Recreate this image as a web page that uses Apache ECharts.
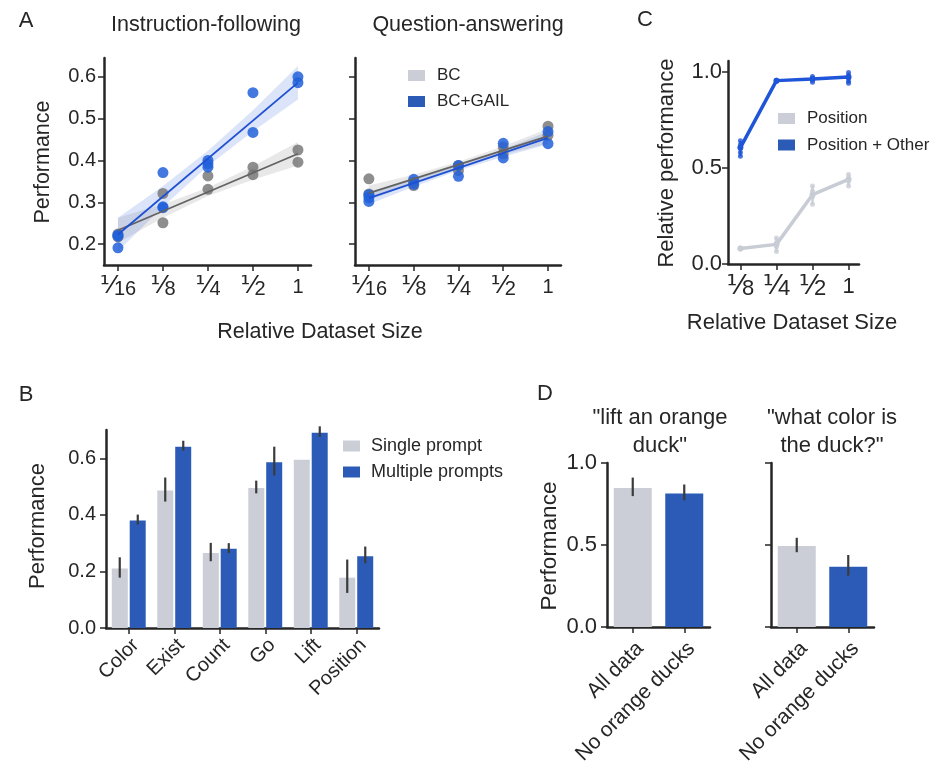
<!DOCTYPE html>
<html><head><meta charset="utf-8">
<script src="https://cdn.jsdelivr.net/npm/echarts@6/dist/echarts.min.js"></script>
<style>html,body{margin:0;padding:0;background:#fff}#c{width:932px;height:767px}</style>
</head><body><div id="c"></div><script>
const FONT = '"Liberation Sans", Arial, "DejaVu Sans", sans-serif';
const TXT = '#262626';
const AX = '#262626';
const GRAY_BAR = '#cbced6';
const BLUE_BAR = '#2b5bb6';
const GRAY_PT = '#727272';
const BLUE_PT = '#2160da';
const GRAY_LINE = '#626262';
const BLUE_LINE = '#1f50d2';

// ---------- Panel A ----------
const sizeIdxA = [0, 1, 2, 3, 4];
const sizeLabelsA = ['⅟16', '⅟8', '⅟4', '⅟2', '1'];
const perfTicksA = [0.2, 0.3, 0.4, 0.5, 0.6];
// seed values per dataset size
const ifBC   = [[0.224, 0.217], [0.321, 0.251], [0.363, 0.331], [0.384, 0.366], [0.425, 0.396]];
const ifGAIL = [[0.222, 0.219, 0.191], [0.371, 0.289, 0.287], [0.400, 0.384, 0.392], [0.562, 0.467], [0.600, 0.586]];
const qaBC   = [[0.356, 0.320], [0.348, 0.340], [0.388, 0.376], [0.432, 0.416], [0.482, 0.460]];
const qaGAIL = [[0.318, 0.311, 0.302], [0.355, 0.343], [0.388, 0.362], [0.441, 0.406], [0.469, 0.440]];
// regression fit endpoints (at 1/16 and 1)
const fitEndsX = [0, 4];
const ifBCFit = [0.233, 0.416];
const ifGAILFit = [0.223, 0.586];
const qaBCFit = [0.322, 0.458];
const qaGAILFit = [0.310, 0.454];
// confidence bands
const ifBCLow = [0.203, 0.263, 0.315, 0.354, 0.388];
const ifBCHigh = [0.263, 0.295, 0.335, 0.386, 0.444];
const ifGAILLow = [0.183, 0.289, 0.387, 0.470, 0.546];
const ifGAILHigh = [0.263, 0.339, 0.423, 0.520, 0.626];
const qaBCLow = [0.304, 0.346, 0.383, 0.414, 0.440];
const qaBCHigh = [0.340, 0.366, 0.397, 0.434, 0.476];
const qaGAILLow = [0.295, 0.337, 0.376, 0.409, 0.439];
const qaGAILHigh = [0.325, 0.355, 0.388, 0.427, 0.469];

// ---------- Panel C ----------
const sizeIdxC = [0, 1, 2, 3];
const sizeLabelsC = ['⅟8', '⅟4', '⅟2', '1'];
const posOtherSeeds = [[0.64, 0.62, 0.60, 0.58, 0.56], [0.955, 0.952, 0.950], [0.975, 0.965, 0.955, 0.945], [0.995, 0.98, 0.965, 0.95, 0.94]];
const posOtherMean = [0.605, 0.953, 0.962, 0.972];
const posSeeds = [[0.083, 0.080, 0.078], [0.135, 0.11, 0.09, 0.065], [0.405, 0.38, 0.35, 0.31], [0.465, 0.445, 0.43, 0.405]];
const posMean = [0.080, 0.102, 0.360, 0.440];
const relTicksC = [0, 0.5, 1.0];

// ---------- Panel B ----------
const tasksB = ['Color', 'Exist', 'Count', 'Go', 'Lift', 'Position'];
const singlePrompt = [0.210, 0.486, 0.265, 0.495, 0.595, 0.178];
const singleLow = [0.178, 0.447, 0.236, 0.476, null, 0.124];
const singleHigh = [0.250, 0.532, 0.301, 0.521, null, 0.242];
const multiPrompt = [0.380, 0.641, 0.280, 0.586, 0.690, 0.254];
const multiLow = [0.366, 0.627, 0.265, 0.539, 0.676, 0.229];
const multiHigh = [0.401, 0.662, 0.300, 0.641, 0.713, 0.288];
const perfTicksB = [0, 0.2, 0.4, 0.6];

// ---------- Panel D ----------
const condD = ['All data', 'No orange ducks'];
const liftDuck = [0.848, 0.814];
const liftDuckLow = [0.798, 0.773];
const liftDuckHigh = [0.911, 0.869];
const colorDuck = [0.494, 0.368];
const colorDuckLow = [0.456, 0.313];
const colorDuckHigh = [0.544, 0.439];
const perfTicksD = [0, 0.5, 1.0];

// ---------- helpers ----------
const noOuter = {outerBoundsMode: 'none', containLabel: false};
const grids = [
  Object.assign({left: 104, top: 58, width: 207, height: 207}, noOuter),
  Object.assign({left: 355, top: 58, width: 206, height: 207}, noOuter),
  Object.assign({left: 728, top: 61, width: 131, height: 203}, noOuter),
  Object.assign({left: 106, top: 430, width: 273, height: 198}, noOuter),
  Object.assign({left: 607, top: 463, width: 103, height: 164}, noOuter),
  Object.assign({left: 771, top: 463, width: 103, height: 164}, noOuter)
];
const axLine = {show: true, onZero: false, lineStyle: {color: AX, width: 2.5}};
function tick(vals) { return {show: true, length: 6, lineStyle: {color: AX, width: 1.5}, customValues: vals}; }
function fracLabel(s) {
  if (s.charAt(0) === '⅟') return '{f|⅟}{d|' + s.slice(1) + '}';
  return '{d|' + s + '}';
}
function valX(gi, min, max, vals, labels, fs) {
  return {type: 'value', gridIndex: gi, min, max, axisLine: axLine, splitLine: {show: false},
    axisTick: tick(vals),
    axisLabel: {customValues: vals, formatter: v => fracLabel(labels[vals.indexOf(Math.round(v))]),
      fontSize: fs, fontFamily: FONT, color: TXT, margin: 8,
      rich: {
        f: {fontSize: fs + 5, fontFamily: '"DejaVu Sans"', color: TXT, verticalAlign: 'bottom', lineHeight: fs + 6},
        d: {fontSize: fs, fontFamily: FONT, color: TXT, verticalAlign: 'bottom', lineHeight: fs + 4}
      }}};
}
function valY(gi, min, max, vals, fs, showLabel, margin) {
  return {type: 'value', gridIndex: gi, min, max, axisLine: axLine, splitLine: {show: false},
    axisTick: tick(vals),
    axisLabel: {show: showLabel, customValues: vals, formatter: v => v.toFixed(1), fontSize: fs,
      fontFamily: FONT, color: TXT, margin: margin}};
}
function catX(gi, cats, fs, margin) {
  return {type: 'category', gridIndex: gi, data: cats, axisLine: axLine,
    axisTick: {show: true, length: 6, alignWithLabel: true, lineStyle: {color: AX, width: 1.5}},
    axisLabel: {interval: 0, rotate: 45, fontSize: fs, fontFamily: FONT, color: TXT, margin: margin,
      verticalAlign: 'top'}};
}
function seedPoints(seeds, xs) {
  const out = [];
  seeds.forEach((arr, i) => arr.forEach(v => out.push([xs[i], v])));
  return out;
}
function band(gi, xs, low, high, color) {
  return {type: 'custom', xAxisIndex: gi, yAxisIndex: gi, silent: true, z: 1,
    data: [[xs[0], low[0]]],
    renderItem: (p, api) => {
      const pts = [];
      xs.forEach((x, i) => pts.push(api.coord([x, high[i]])));
      for (let i = xs.length - 1; i >= 0; i--) pts.push(api.coord([xs[i], low[i]]));
      return {type: 'polygon', shape: {points: pts}, style: {fill: color}};
    }};
}
function scatter(gi, seeds, color, size, op) {
  return {type: 'scatter', xAxisIndex: gi, yAxisIndex: gi, symbolSize: size, silent: true, z: 2,
    itemStyle: {color: color, opacity: op}, data: seedPoints(seeds, sizeIdxA)};
}
function fitLine(gi, name, ys, color) {
  return {type: 'line', name, xAxisIndex: gi, yAxisIndex: gi, showSymbol: false, silent: true, z: 3,
    lineStyle: {color, width: 1.8}, itemStyle: {color}, data: fitEndsX.map((x, i) => [x, ys[i]])};
}
function errBars(gi, low, high, offFrac, color, w) {
  const data = [];
  low.forEach((l, i) => { if (l !== null) data.push([i, l, high[i]]); });
  return {type: 'custom', xAxisIndex: gi, yAxisIndex: gi, silent: true, z: 5, data,
    renderItem: (p, api) => {
      const bw = api.size([1, 0])[0];
      const a = api.coord([api.value(0), api.value(1)]);
      const b = api.coord([api.value(0), api.value(2)]);
      const off = bw * offFrac;
      return {type: 'line', shape: {x1: a[0] + off, y1: a[1], x2: b[0] + off, y2: b[1]},
        style: {stroke: color, lineWidth: w}};
    }};
}
function rangeBars(gi, xs, seeds, color) {
  return {type: 'custom', xAxisIndex: gi, yAxisIndex: gi, silent: true, z: 4,
    data: seeds.map((s, i) => [xs[i], Math.min(...s), Math.max(...s)]),
    renderItem: (p, api) => {
      const a = api.coord([api.value(0), api.value(1)]);
      const b = api.coord([api.value(0), api.value(2)]);
      return {type: 'line', shape: {x1: a[0], y1: a[1], x2: b[0], y2: b[1]}, style: {stroke: color, lineWidth: 2.2}};
    }};
}
function txt(x, y, text, fs, extra) {
  return Object.assign({type: 'text', x, y, silent: true,
    style: {text, fontSize: fs, fontFamily: FONT, fill: TXT, align: 'center', verticalAlign: 'middle', lineHeight: 28}}, extra || {});
}
const legText = (fs, pad) => ({fontSize: fs, fontFamily: FONT, color: TXT, padding: [0, 0, 0, pad]});

const C_BLUE = '#1f55d8';
const C_GRAY = '#c8ccd5';

const option = {
  animation: false,
  backgroundColor: '#fff',
  grid: grids,
  xAxis: [
    valX(0, -0.31, 4.29, sizeIdxA, sizeLabelsA, 20),
    valX(1, -0.31, 4.29, sizeIdxA, sizeLabelsA, 20),
    valX(2, -0.344, 3.29, sizeIdxC, sizeLabelsC, 22),
    catX(3, tasksB, 20, 7),
    catX(4, condD, 21, 11),
    catX(5, condD, 21, 11)
  ],
  yAxis: [
    valY(0, 0.15, 0.645, perfTicksA, 20, true, 8),
    valY(1, 0.15, 0.645, perfTicksA, 20, false, 8),
    valY(2, 0, 1.055, relTicksC, 22, true, 6),
    valY(3, 0, 0.7, perfTicksB, 20, true, 10),
    valY(4, 0, 1.0, perfTicksD, 22, true, 10),
    valY(5, 0, 1.0, perfTicksD, 22, false, 10)
  ],
  legend: [
    {orient: 'vertical', left: 408, top: 67, padding: 0, itemWidth: 17, itemHeight: 11, itemGap: 9, icon: 'rect',
      selectedMode: false, textStyle: legText(17, 7),
      data: [{name: 'BC', itemStyle: {color: GRAY_BAR, opacity: 1}}, {name: 'BC+GAIL', itemStyle: {color: BLUE_BAR, opacity: 1}}]},
    {orient: 'vertical', left: 778, top: 110, padding: 0, itemWidth: 17, itemHeight: 11, itemGap: 9.5, icon: 'rect',
      selectedMode: false, textStyle: legText(17, 7),
      data: [{name: 'Position', itemStyle: {color: GRAY_BAR, opacity: 1}}, {name: 'Position + Other', itemStyle: {color: BLUE_BAR, opacity: 1}}]},
    {orient: 'vertical', left: 343, top: 437, padding: 0, itemWidth: 17, itemHeight: 11, itemGap: 8, icon: 'rect',
      selectedMode: false, textStyle: legText(18, 6),
      data: [{name: 'Single prompt', itemStyle: {color: GRAY_BAR}}, {name: 'Multiple prompts', itemStyle: {color: BLUE_BAR}}]}
  ],
  series: [
    // A: instruction-following
    band(0, sizeIdxA, ifBCLow, ifBCHigh, 'rgba(130,130,130,0.18)'),
    band(0, sizeIdxA, ifGAILLow, ifGAILHigh, 'rgba(40,95,215,0.17)'),
    scatter(0, ifBC, GRAY_PT, 11, 0.8),
    scatter(0, ifGAIL, BLUE_PT, 11, 0.85),
    fitLine(0, 'BC', ifBCFit, GRAY_LINE),
    fitLine(0, 'BC+GAIL', ifGAILFit, BLUE_LINE),
    // A: question-answering
    band(1, sizeIdxA, qaBCLow, qaBCHigh, 'rgba(130,130,130,0.18)'),
    band(1, sizeIdxA, qaGAILLow, qaGAILHigh, 'rgba(40,95,215,0.17)'),
    scatter(1, qaBC, GRAY_PT, 11, 0.8),
    scatter(1, qaGAIL, BLUE_PT, 11, 0.85),
    fitLine(1, 'BC', qaBCFit, GRAY_LINE),
    fitLine(1, 'BC+GAIL', qaGAILFit, BLUE_LINE),
    // C
    rangeBars(2, sizeIdxC, posSeeds, C_GRAY),
    rangeBars(2, sizeIdxC, posOtherSeeds, C_BLUE),
    {type: 'scatter', xAxisIndex: 2, yAxisIndex: 2, symbolSize: 5, silent: true, z: 4,
      itemStyle: {color: C_GRAY}, data: seedPoints(posSeeds, sizeIdxC)},
    {type: 'scatter', xAxisIndex: 2, yAxisIndex: 2, symbolSize: 5, silent: true, z: 4,
      itemStyle: {color: C_BLUE}, data: seedPoints(posOtherSeeds, sizeIdxC)},
    {type: 'line', name: 'Position', xAxisIndex: 2, yAxisIndex: 2, symbol: 'circle', symbolSize: 6, silent: true, z: 3,
      lineStyle: {color: C_GRAY, width: 3.5}, itemStyle: {color: C_GRAY}, data: sizeIdxC.map((x, i) => [x, posMean[i]])},
    {type: 'line', name: 'Position + Other', xAxisIndex: 2, yAxisIndex: 2, symbol: 'circle', symbolSize: 6, silent: true, z: 3,
      lineStyle: {color: C_BLUE, width: 3.5}, itemStyle: {color: C_BLUE}, data: sizeIdxC.map((x, i) => [x, posOtherMean[i]])},
    // B
    {type: 'bar', name: 'Single prompt', xAxisIndex: 3, yAxisIndex: 3, barWidth: 16, barGap: '12%', silent: true,
      itemStyle: {color: GRAY_BAR}, data: singlePrompt},
    {type: 'bar', name: 'Multiple prompts', xAxisIndex: 3, yAxisIndex: 3, barWidth: 16, barGap: '12%', silent: true,
      itemStyle: {color: BLUE_BAR}, data: multiPrompt},
    errBars(3, singleLow, singleHigh, -0.198, '#3b3b3b', 2.2),
    errBars(3, multiLow, multiHigh, 0.198, '#3b3b3b', 2.2),
    // D
    {type: 'bar', name: 'lift an orange duck', xAxisIndex: 4, yAxisIndex: 4, barWidth: 38, silent: true,
      data: [{value: liftDuck[0], itemStyle: {color: GRAY_BAR}}, {value: liftDuck[1], itemStyle: {color: BLUE_BAR}}]},
    errBars(4, liftDuckLow, liftDuckHigh, 0, '#3b3b3b', 2.2),
    {type: 'bar', name: 'what color is the duck?', xAxisIndex: 5, yAxisIndex: 5, barWidth: 38, silent: true,
      data: [{value: colorDuck[0], itemStyle: {color: GRAY_BAR}}, {value: colorDuck[1], itemStyle: {color: BLUE_BAR}}]},
    errBars(5, colorDuckLow, colorDuckHigh, 0, '#3b3b3b', 2.2)
  ],
  graphic: [
    txt(26, 21, 'A', 22),
    txt(206, 25, 'Instruction-following', 21.5),
    txt(468, 25, 'Question-answering', 21.5),
    txt(43, 162, 'Performance', 21.5, {rotation: Math.PI / 2}),
    txt(320, 332, 'Relative Dataset Size', 21.5),
    txt(645, 20, 'C', 22),
    txt(667, 163, 'Relative performance', 22, {rotation: Math.PI / 2}),
    txt(792, 323, 'Relative Dataset Size', 22),
    txt(26, 395, 'B', 22),
    txt(38, 526, 'Performance', 22, {rotation: Math.PI / 2}),
    txt(545, 394, 'D', 22),
    txt(660, 432, '"lift an orange\nduck"', 22),
    txt(832, 432, '"what color is\nthe duck?"', 22),
    txt(550, 546, 'Performance', 22.5, {rotation: Math.PI / 2})
  ]
};
const chart = echarts.init(document.getElementById('c'), null, {renderer: 'canvas'});
chart.setOption(option);
</script></body></html>
